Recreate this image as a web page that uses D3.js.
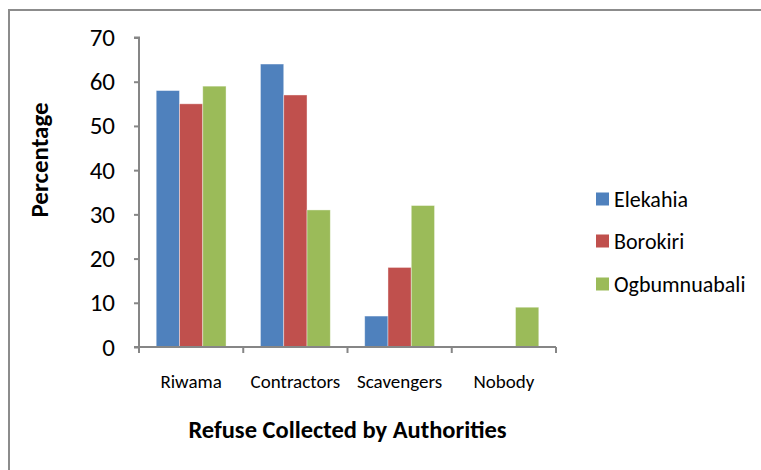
<!DOCTYPE html>
<html><head><meta charset="utf-8">
<script src="https://cdn.jsdelivr.net/npm/d3@7"></script>
<style>body{margin:0;background:#fff}svg{display:block}</style>
</head><body>
<script>
const categories = ["Riwama", "Contractors", "Scavengers", "Nobody"];
const seriesNames = ["Elekahia", "Borokiri", "Ogbumnuabali"];
const elekahia = [58, 64, 7, 0];
const borokiri = [55, 57, 18, 0];
const ogbumnuabali = [59, 31, 32, 9];
const yTicks = [0, 10, 20, 30, 40, 50, 60, 70];
const colors = ["#4F81BD", "#C0504D", "#9BBB59"];
const series = [elekahia, borokiri, ogbumnuabali];

const W = 761, H = 470;
const font = "Carlito, Lato, 'Open Sans', sans-serif";
const svg = d3.select("body").append("svg").attr("width", W).attr("height", H);

// outer frame (only top and left visible)
svg.append("path").attr("d", "M9,480 V10 H780").attr("fill", "none")
  .attr("stroke", "#8c8c8c").attr("stroke-width", 2);

const x0 = 139, x1 = 556, yb = 347, yt = 37.5;
const x = d3.scaleBand().domain(categories).range([x0, x1]).paddingInner(0.33).paddingOuter(0.165);
const xs = d3.scaleBand().domain(d3.range(3)).range([0, x.bandwidth()]);
const y = d3.scaleLinear().domain([0, 70]).range([yb, yt]);

// bars
categories.forEach((c, i) => {
  series.forEach((s, j) => {
    const v = s[i];
    if (v <= 0) return;
    svg.append("rect")
      .attr("x", x(c) + xs(j)).attr("y", y(v))
      .attr("width", xs.bandwidth()).attr("height", yb - y(v))
      .attr("fill", colors[j]).attr("stroke", "rgba(255,255,255,0.5)").attr("stroke-width", 0.8);
  });
});

// y axis
const ya = svg.append("g").attr("transform", `translate(${x0},0)`)
  .call(d3.axisLeft(y).tickValues(yTicks).tickSize(5).tickPadding(19));
ya.select(".domain").attr("stroke", "#868686").attr("stroke-width", 2).attr("d", `M-5,${yt}H0V${yb}`);
ya.selectAll(".tick line").attr("stroke", "#868686").attr("stroke-width", 2);
ya.selectAll(".tick text").attr("font-family", font).attr("font-size", 25).attr("fill", "#000");

// x axis
const xa = svg.append("g").attr("transform", `translate(0,${yb})`);
xa.append("line").attr("x1", x0 - 5).attr("x2", x1).attr("y1", 0).attr("y2", 0)
  .attr("stroke", "#868686").attr("stroke-width", 2);
const step = (x1 - x0) / categories.length;
d3.range(categories.length + 1).forEach(k => {
  xa.append("line").attr("x1", x0 + k * step).attr("x2", x0 + k * step)
    .attr("y1", 0).attr("y2", 6).attr("stroke", "#868686").attr("stroke-width", 2);
});
categories.forEach(c => {
  xa.append("text").attr("x", x(c) + x.bandwidth() / 2).attr("y", 41)
    .attr("text-anchor", "middle").attr("font-family", font).attr("font-size", 19)
    .attr("fill", "#000").text(c);
});

// axis titles
svg.append("text").attr("transform", `translate(48,160) rotate(-90)`)
  .attr("text-anchor", "middle").attr("font-family", font).attr("font-weight", "bold")
  .attr("font-size", 25).text("Percentage");
svg.append("text").attr("x", (x0 + x1) / 2).attr("y", 438)
  .attr("text-anchor", "middle").attr("font-family", font).attr("font-weight", "bold")
  .attr("font-size", 24.5).text("Refuse Collected by Authorities");

// legend
const ly = [199, 241, 284];
seriesNames.forEach((n, j) => {
  svg.append("rect").attr("x", 596).attr("y", ly[j] - 6.5).attr("width", 13).attr("height", 13).attr("fill", colors[j]);
  svg.append("text").attr("x", 614).attr("y", ly[j]).attr("dy", "0.35em")
    .attr("font-family", font).attr("font-size", 22).attr("fill", "#000").text(n);
});
</script>
</body></html>
